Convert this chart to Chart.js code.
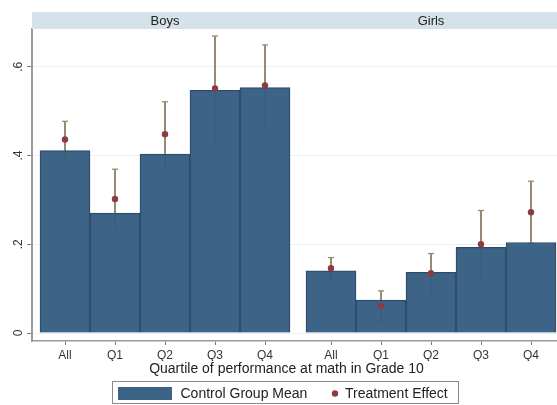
<!DOCTYPE html>
<html>
<head>
<meta charset="utf-8">
<script src="https://cdn.jsdelivr.net/npm/chart.js@4"></script>
<style>
  html, body { margin: 0; padding: 0; background: #ffffff; }
  #wrap { width: 557px; height: 405px; position: relative; }
</style>
</head>
<body>
<div id="wrap"><canvas id="chart"></canvas></div>
<script>
// Quartile categories shown in each panel
const categories = ['All', 'Q1', 'Q2', 'Q3', 'Q4'];
const panels = ['Boys', 'Girls'];
const yTickValues = [0, 0.2, 0.4, 0.6];
const yTickLabels = ['0', '.2', '.4', '.6'];
const xAxisTitle = 'Quartile of performance at math in Grade 10';
const controlLabel = 'Control Group Mean';
const effectLabel = 'Treatment Effect';

// Control group means (bars)
const boysControl = [0.411, 0.270, 0.403, 0.547, 0.553];
const girlsControl = [0.140, 0.074, 0.137, 0.193, 0.204];

// Treatment effects (dots) with confidence interval bounds
const boysEffect = [0.436, 0.302, 0.448, 0.551, 0.558];
const boysCiLow  = [0.395, 0.235, 0.375, 0.433, 0.467];
const boysCiHigh = [0.477, 0.369, 0.521, 0.669, 0.649];

const girlsEffect = [0.146, 0.061, 0.135, 0.200, 0.272];
const girlsCiLow  = [0.122, 0.027, 0.091, 0.124, 0.202];
const girlsCiHigh = [0.170, 0.095, 0.179, 0.276, 0.342];

// Layout of the two panels on a shared linear x axis
const PANEL_GAP = 0.32;
const panelStart = [0, categories.length + PANEL_GAP];
const xPos = (p, i) => panelStart[p] + i;
const tickPositions = [];
panels.forEach((_, p) => categories.forEach((_, i) => tickPositions.push(xPos(p, i))));

function points(series) {
  const out = [];
  series.forEach((arr, p) => arr.forEach((v, i) => out.push({ x: xPos(p, i), y: v })));
  return out;
}
function ranges(lows, highs) {
  const out = [];
  lows.forEach((arr, p) => arr.forEach((v, i) => out.push({ x: xPos(p, i), y: [v, highs[p][i]] })));
  return out;
}

const BAR_COLOR = 'rgba(53,93,129,0.96)';
const BAR_EDGE = 'rgb(45,74,104)';
const DOT_COLOR = '#8e3a3e';
const CI_COLOR = '#978b73';
const FONT = '"Liberation Sans", Arial, sans-serif';

// Strip headers, axis title and boxed legend
const decor = {
  id: 'decor',
  afterDraw(chart) {
    const ctx = chart.ctx;
    const area = chart.chartArea;
    const xs = chart.scales.x;
    ctx.save();
    // panel header strip
    ctx.fillStyle = '#d6e2e9';
    ctx.fillRect(area.left, 12, area.right - area.left, area.top - 12);
    ctx.fillStyle = '#222';
    ctx.font = '13px ' + FONT;
    ctx.textAlign = 'center';
    ctx.textBaseline = 'middle';
    panels.forEach((name, p) => {
      ctx.fillText(name, xs.getPixelForValue(xPos(p, 2)), 21);
    });
    // x axis title
    ctx.font = '14px ' + FONT;
    ctx.fillText(xAxisTitle, 286.5, 369);
    // legend box
    const bx = 112.5, by = 381.5, bw = 346, bh = 22;
    ctx.strokeStyle = '#8a8a8a';
    ctx.lineWidth = 1;
    ctx.strokeRect(bx, by, bw, bh);
    ctx.fillStyle = chart.data.datasets[1].backgroundColor;
    ctx.fillRect(118, 387, 54, 13);
    ctx.fillStyle = '#222';
    ctx.textAlign = 'left';
    ctx.fillText(chart.data.datasets[1].label, 180.5, 394);
    ctx.fillStyle = chart.data.datasets[0].backgroundColor;
    ctx.beginPath();
    ctx.arc(335, 393.5, 3.2, 0, Math.PI * 2);
    ctx.fill();
    ctx.fillStyle = '#222';
    ctx.fillText(chart.data.datasets[0].label, 345, 394);
    ctx.restore();
  }
};

new Chart(document.getElementById('chart'), {
  type: 'bar',
  data: {
    datasets: [
      {
        type: 'scatter',
        label: effectLabel,
        data: points([boysEffect, girlsEffect]),
        backgroundColor: DOT_COLOR,
        borderWidth: 0,
        pointRadius: 3.2,
        order: 0
      },
      {
        type: 'bar',
        label: controlLabel,
        data: points([boysControl, girlsControl]),
        backgroundColor: BAR_COLOR,
        borderColor: BAR_EDGE,
        borderWidth: 1,
        barPercentage: 1,
        categoryPercentage: 1,
        grouped: false,
        order: 1
      },
      {
        type: 'bar',
        label: 'CI',
        data: ranges([boysCiLow, girlsCiLow], [boysCiHigh, girlsCiHigh]),
        backgroundColor: CI_COLOR,
        borderWidth: 0,
        barThickness: 1.4,
        grouped: false,
        order: 2
      },
      {
        type: 'scatter',
        label: 'CI caps',
        data: points([boysCiHigh, girlsCiHigh]).concat(points([boysCiLow, girlsCiLow])),
        pointStyle: 'line',
        pointRadius: 3,
        borderColor: CI_COLOR,
        borderWidth: 1.3,
        order: 3
      }
    ]
  },
  options: {
    responsive: true,
    maintainAspectRatio: false,
    animation: false,
    events: [],
    layout: { autoPadding: false, padding: { top: 29, bottom: 44, left: 0, right: 0 } },
    plugins: {
      legend: { display: false },
      tooltip: { enabled: false }
    },
    scales: {
      x: {
        type: 'linear',
        offset: false,
        min: -0.66,
        max: 9.84,
        afterBuildTicks(scale) {
          scale.ticks = tickPositions.map(v => ({ value: v }));
        },
        afterFit(scale) {
          scale.height = 20;
          scale.paddingLeft = 0;
          scale.paddingRight = 0;
        },
        ticks: {
          autoSkip: false,
          maxRotation: 0,
          padding: 3,
          color: '#333',
          font: { family: FONT, size: 12 },
          callback: (v, i) => categories[i % categories.length]
        },
        grid: {
          offset: false,
          drawOnChartArea: false,
          drawTicks: true,
          tickLength: 4,
          tickColor: '#777'
        },
        border: { display: true, color: '#9a9a9a', width: 1.5 }
      },
      y: {
        type: 'linear',
        min: -0.018,
        max: 0.685,
        afterBuildTicks(scale) {
          scale.ticks = yTickValues.map(v => ({ value: v }));
        },
        afterFit(scale) {
          scale.width = 32;
          scale.paddingTop = 0;
          scale.paddingBottom = 0;
        },
        ticks: {
          minRotation: 90,
          maxRotation: 90,
          crossAlign: 'center',
          padding: 3,
          color: '#333',
          font: { family: FONT, size: 12 },
          callback: (v) => yTickLabels[yTickValues.indexOf(v)]
        },
        grid: {
          color: '#edf1f4',
          lineWidth: 1,
          drawTicks: true,
          tickLength: 5,
          tickColor: '#777'
        },
        border: { display: true, color: '#9a9a9a', width: 2 }
      }
    }
  },
  plugins: [decor]
});
</script>
</body>
</html>
